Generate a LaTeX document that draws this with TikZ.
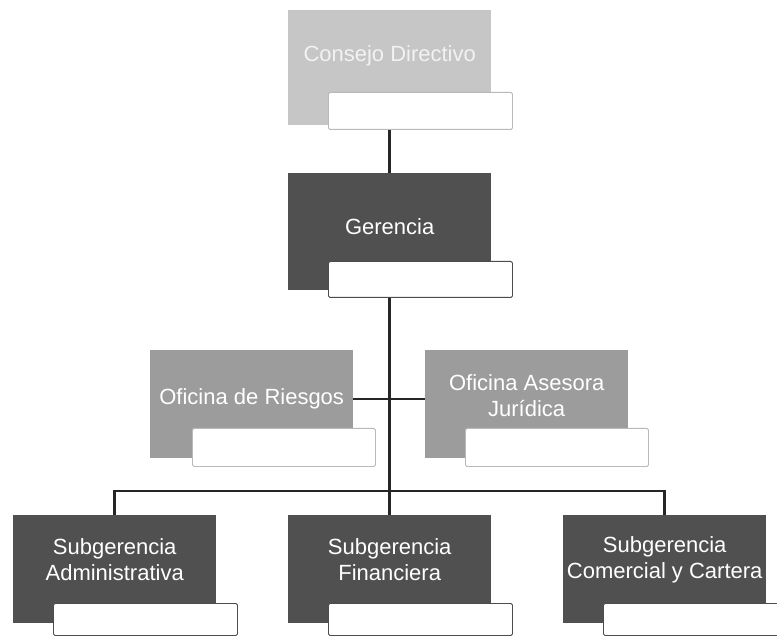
\documentclass[tikz,border=0pt]{standalone}
\usepackage{fontspec}
\setmainfont{Liberation Sans}
\definecolor{grisclaro}{HTML}{C6C6C6}
\definecolor{grismedio}{HTML}{9C9C9C}
\definecolor{grisoscuro}{HTML}{505050}

\tikzset{
    caja/.style={anchor=north west, minimum width=203pt, inner sep=0pt},
    cargo/.style={anchor=north west, draw=#1, fill=white, minimum width=184pt, inner sep=0pt, rounded corners=1.5pt, line width=0.9pt},
    titulo/.style={text=white, align=center, font=\fontsize{22}{26}\selectfont},
    linea/.style={line width=2.6pt, black!85}
}

\begin{document}
\begin{tikzpicture}[x=1pt, y=-1pt]
    \useasboundingbox (0,0) rectangle (777,636);

    % Consejo y Gerencia
    \node[caja, fill=grisclaro, minimum height=115pt] (consejo) at (288,10) {};
    \node[cargo=gray!55, minimum height=37pt] (consejoc) at (328,92) {};
    \node[titulo, text=black!5] (tconsejo) at ([yshift=-46pt]consejo.north) {Consejo Directivo};

    \node[caja, fill=grisoscuro, minimum height=117pt] (gerencia) at (288,173) {};
    \node[cargo=black!70, minimum height=36pt] (gerenciac) at (328,261) {};
    \node[titulo] (tgerencia) at ([yshift=-54pt]gerencia.north) {Gerencia};

    % Oficinas
    \node[caja, fill=grismedio, minimum height=108pt] (riesgos) at (150,350) {};
    \node[cargo=gray!55, minimum height=38pt, minimum width=183pt] (riesgosc) at (192,428) {};
    \node[titulo] (triesgos) at ([yshift=-49pt]riesgos.north) {Oficina de Riesgos};

    \node[caja, fill=grismedio, minimum height=108pt] (juridica) at (425,350) {};
    \node[cargo=gray!55, minimum height=38pt, minimum width=183pt] (juridicac) at (465,428) {};
    \node[titulo] (tjuridica) at ([yshift=-46pt]juridica.north) {Oficina Asesora\\Jurídica};

    % Subgerencias
    \node[caja, fill=grisoscuro, minimum height=108pt] (sadm) at (13,515) {};
    \node[cargo=black!70, minimum height=32pt] (sadmc) at (53,603) {};
    \node[titulo] (tsadm) at ([yshift=-45pt]sadm.north) {Subgerencia\\Administrativa};

    \node[caja, fill=grisoscuro, minimum height=108pt] (sfin) at (288,515) {};
    \node[cargo=black!70, minimum height=32pt] (sfinc) at (328,603) {};
    \node[titulo] (tsfin) at ([yshift=-45pt]sfin.north) {Subgerencia\\Financiera};

    \node[caja, fill=grisoscuro, minimum height=108pt] (scom) at (563,515) {};
    \node[cargo=black!70, minimum height=32pt] (scomc) at (603,603) {};
    \node[titulo] (tscom) at ([yshift=-45pt]scom.north) {Subgerencia\\Comercial y Cartera};

    % conectores
    \draw[linea] (consejo.south |- consejoc.south) -- (gerencia.north);
    \draw[linea] (gerencia.south |- gerenciac.south) -- (sfin.north);
    \draw[linea] (triesgos -| riesgos.east) -- (triesgos -| juridica.west);
    \draw[linea] (sadm.north) -- ++(0,-24) -| (scom.north);
\end{tikzpicture}
\end{document}
